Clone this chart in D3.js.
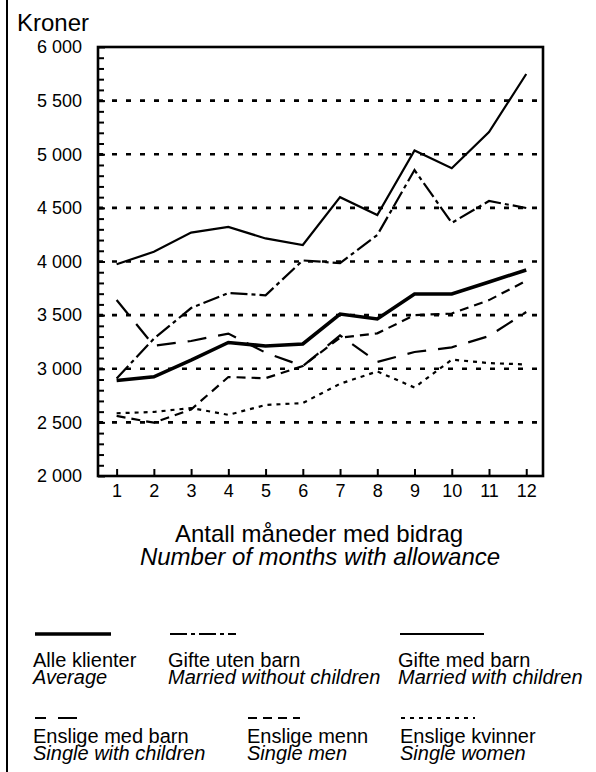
<!DOCTYPE html>
<html>
<head>
<meta charset="utf-8">
<script src="https://cdn.jsdelivr.net/npm/d3@7"></script>
<style>
  body { margin: 0; background: #fff; }
  svg { display: block; font-family: "Liberation Sans", Arial, Helvetica, sans-serif; }
</style>
</head>
<body>
<svg id="chart" width="596" height="772"></svg>
<script>
// months with allowance
const months = [1, 2, 3, 4, 5, 6, 7, 8, 9, 10, 11, 12];

// kroner per month
const alleKlienter   = [2890, 2925, 3080, 3245, 3212, 3231, 3510, 3464, 3697, 3697, 3809, 3921];
const gifteUtenBarn  = [2910, 3280, 3566, 3706, 3685, 4010, 3985, 4247, 4853, 4360, 4564, 4499];
const gifteMedBarn   = [3975, 4090, 4270, 4322, 4215, 4154, 4600, 4434, 5035, 4870, 5207, 5748];
const ensligeMedBarn = [3641, 3215, 3259, 3328, 3150, 3025, 3310, 3063, 3156, 3200, 3305, 3529];
const ensligeMenn    = [2560, 2497, 2620, 2923, 2912, 3025, 3290, 3330, 3500, 3515, 3640, 3820];
const ensligeKvinner = [2585, 2597, 2634, 2570, 2662, 2680, 2860, 2975, 2825, 3085, 3053, 3040];

const namesNo = ["Alle klienter", "Gifte uten barn", "Gifte med barn", "Enslige med barn", "Enslige menn", "Enslige kvinner"];
const namesEn = ["Average", "Married without children", "Married with children", "Single with children", "Single men", "Single women"];

const yTicks = [2000, 2500, 3000, 3500, 4000, 4500, 5000, 5500, 6000];

const svg = d3.select("#chart");
const plot = { left: 98, right: 543, top: 47, bottom: 476 };

const x = d3.scaleLinear().domain([0.5, 12.45]).range([plot.left, plot.right]);
const y = d3.scaleLinear().domain([2000, 6000]).range([plot.bottom, plot.top]);

const nb = d3.formatLocale({ decimal: ",", thousands: " ", grouping: [3], currency: ["", ""] });

// line styles, same order as the names
const styles = [
    { values: alleKlienter,   width: 3.6, dash: null },
    { values: gifteUtenBarn,  width: 2.2, dash: "17,4,4,4" },
    { values: gifteMedBarn,   width: 2.2, dash: null },
    { values: ensligeMedBarn, width: 2.2, dash: "19,12" },
    { values: ensligeMenn,    width: 2.2, dash: "9,6" },
    { values: ensligeKvinner, width: 2.2, dash: "4,5" }
];

// page border on the left
svg.append("line")
    .attr("x1", 7).attr("x2", 7).attr("y1", 0).attr("y2", 772)
    .attr("stroke", "#000").attr("stroke-width", 2);

svg.append("text")
    .attr("x", 17).attr("y", 31)
    .attr("font-size", 24)
    .text("Kroner");

// dotted grid lines
svg.append("g")
    .selectAll("line")
    .data(yTicks.filter((d) => d > 2000 && d < 6000))
    .enter()
    .append("line")
    .attr("x1", plot.left).attr("x2", plot.right)
    .attr("y1", (d) => y(d)).attr("y2", (d) => y(d))
    .attr("stroke", "#000")
    .attr("stroke-width", 2.6)
    .attr("stroke-dasharray", "5,9");

// y axis with labels + minor ticks
const yAxis = svg.append("g")
    .attr("transform", `translate(${plot.left},0)`)
    .call(d3.axisLeft(y).tickValues(yTicks).tickSize(-7).tickPadding(16).tickFormat(nb.format(",")));
yAxis.select(".domain").remove();
yAxis.selectAll("text").attr("font-size", 18).attr("font-family", null).attr("fill", "#000");
yAxis.selectAll("line").attr("stroke-width", 2);

const yMinor = svg.append("g")
    .attr("transform", `translate(${plot.left},0)`)
    .call(d3.axisLeft(y).tickValues(d3.range(2100, 6000, 100)).tickSize(-6).tickFormat(""));
yMinor.select(".domain").remove();
yMinor.selectAll("line").attr("stroke-width", 2);

// x axis
const xAxis = svg.append("g")
    .attr("transform", `translate(0,${plot.bottom})`)
    .call(d3.axisBottom(x).tickValues(months).tickSize(-7).tickPadding(8).tickFormat(d3.format("d")));
xAxis.select(".domain").remove();
xAxis.selectAll("text").attr("font-size", 18).attr("font-family", null).attr("fill", "#000");
xAxis.selectAll("line").attr("stroke-width", 2);

// series
const line = d3.line()
    .x((d, i) => x(months[i]))
    .y((d) => y(d));

svg.append("g")
    .selectAll("path")
    .data(styles)
    .enter()
    .append("path")
    .attr("d", (d) => line(d.values))
    .attr("fill", "none")
    .attr("stroke", "#000")
    .attr("stroke-width", (d) => d.width)
    .attr("stroke-dasharray", (d) => d.dash)
    .attr("stroke-linejoin", "miter");

// frame
svg.append("rect")
    .attr("x", plot.left).attr("y", plot.top)
    .attr("width", plot.right - plot.left).attr("height", plot.bottom - plot.top)
    .attr("fill", "none")
    .attr("stroke", "#000")
    .attr("stroke-width", 2.6);

// axis title
svg.append("text")
    .attr("x", 319).attr("y", 542)
    .attr("text-anchor", "middle")
    .attr("font-size", 24)
    .text("Antall måneder med bidrag");
svg.append("text")
    .attr("x", 320).attr("y", 565)
    .attr("text-anchor", "middle")
    .attr("font-size", 24)
    .attr("font-style", "italic")
    .text("Number of months with allowance");

// legend
const legendPos = [
    { tx: 33,  lx: 35,  lw: 76, off: 0, row: 0 },
    { tx: 168, lx: 170, lw: 66, off: 0, row: 0 },
    { tx: 398, lx: 400, lw: 84, off: 0, row: 0 },
    { tx: 33,  lx: 35,  lw: 44, off: 8, row: 1 },
    { tx: 247, lx: 248, lw: 52, off: 0, row: 1 },
    { tx: 400, lx: 401, lw: 74, off: 0, row: 1 }
];
const rowLine = [634, 718];
const rowText = [[667, 684], [743, 760]];

const legend = svg.append("g")
    .selectAll("g")
    .data(styles)
    .enter()
    .append("g");

legend.append("line")
    .attr("x1", (d, i) => legendPos[i].lx)
    .attr("x2", (d, i) => legendPos[i].lx + legendPos[i].lw)
    .attr("y1", (d, i) => rowLine[legendPos[i].row])
    .attr("y2", (d, i) => rowLine[legendPos[i].row])
    .attr("stroke", "#000")
    .attr("stroke-width", (d) => d.width)
    .attr("stroke-dasharray", (d) => d.dash)
    .attr("stroke-dashoffset", (d, i) => legendPos[i].off);

legend.append("text")
    .attr("x", (d, i) => legendPos[i].tx)
    .attr("y", (d, i) => rowText[legendPos[i].row][0])
    .attr("font-size", 20)
    .text((d, i) => namesNo[i]);

legend.append("text")
    .attr("x", (d, i) => legendPos[i].tx)
    .attr("y", (d, i) => rowText[legendPos[i].row][1])
    .attr("font-size", 20)
    .attr("font-style", "italic")
    .text((d, i) => namesEn[i]);
</script>
</body>
</html>
